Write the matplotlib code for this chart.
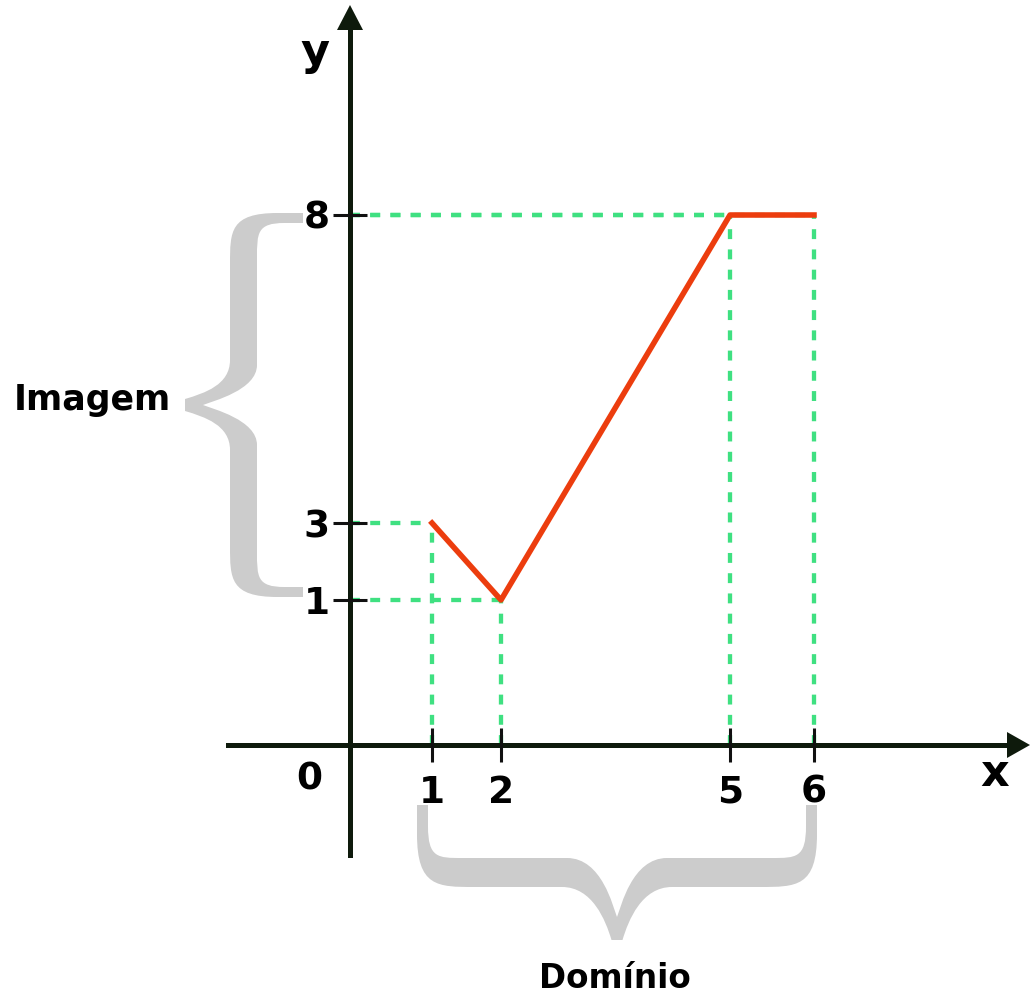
import numpy as np
import matplotlib.pyplot as plt
from matplotlib.path import Path
from matplotlib.patches import PathPatch, Polygon

plt.rcParams['font.family'] = ['DejaVu Sans']
plt.rcParams['font.weight'] = 'bold'

# function f: pieces through these points
xs = [1, 2, 5, 6]
ys = [3, 1, 8, 8]
xticks = [1, 2, 5, 6]
yticks = [1, 3, 8]

# the drawing is not to scale: data value -> pixel position
W, H = 1030, 997
x_knots = [-5, 0, 1, 2, 5, 6, 10]
x_pix = [-50, 350, 432, 501, 730, 814, 1150]
y_knots = [-5, 0, 1, 3, 8, 15]
y_pix = [H - p for p in [1245, 745, 600, 523, 215, -200]]

def fx(v):
    return np.interp(v, x_knots, x_pix)

def fx_inv(p):
    return np.interp(p, x_pix, x_knots)

def fy(v):
    return np.interp(v, y_knots, y_pix)

def fy_inv(p):
    return np.interp(p, y_pix, y_knots)

axis_c = '#0e1a0c'
red = '#ec3d0e'
green = '#3fe081'
gray = '#cccccc'


def brace(L, T, t_in, t_out, notch, stub, tip, flare):
    # curly brace outline in local coords (s along, t towards the tip)
    c = L / 2
    v, k = [], []

    def mv(p):
        v.append(p); k.append(Path.MOVETO)

    def ln(p):
        v.append(p); k.append(Path.LINETO)

    def cu(a, b, p):
        v.extend([a, b, p]); k.extend([Path.CURVE4] * 3)

    mv((0, 0))
    ln((0, t_in * 0.55))
    cu((0, t_out), (t_out * 0.25, t_out), (t_out * 0.7, t_out))
    ln((c - flare, t_out))
    cu((c - flare * 0.45, t_out), (c - tip - 6, T - 20), (c - tip, T))
    ln((c + tip, T))
    cu((c + tip + 6, T - 20), (c + flare * 0.45, t_out), (c + flare, t_out))
    ln((L - t_out * 0.7, t_out))
    cu((L - t_out * 0.25, t_out), (L, t_out), (L, t_in * 0.55))
    ln((L, 0))
    ln((L - stub, 0))
    ln((L - stub, t_in * 0.4))
    cu((L - stub, t_in), (L - stub - 10, t_in), (L - 45, t_in))
    ln((c + flare - 5, t_in))
    cu((c + 15, t_in), (c + 4, notch - 10), (c, notch))
    cu((c - 4, notch - 10), (c - 15, t_in), (c - flare + 5, t_in))
    ln((45, t_in))
    cu((stub + 10, t_in), (stub, t_in), (stub, t_in * 0.4))
    ln((stub, 0))
    v.append((0, 0)); k.append(Path.CLOSEPOLY)
    return np.array(v, float), k


fig = plt.figure(figsize=(10.3, 9.97), dpi=100)

# decorations in pixel coordinates
deco = fig.add_axes([0, 0, 1, 1], zorder=1)
deco.set_xlim(0, W)
deco.set_ylim(H, 0)
deco.axis('off')

v, k = brace(384, 118, 46, 73, 100, 10, 6, 45)
left = np.column_stack([303 - v[:, 1], 213 + v[:, 0]])
deco.add_patch(PathPatch(Path(left, k), fc=gray, ec='none'))
v, k = brace(400, 135, 53, 82, 112, 11, 5.5, 55)
bottom = np.column_stack([417 + v[:, 0], 805 + v[:, 1]])
deco.add_patch(PathPatch(Path(bottom, k), fc=gray, ec='none'))

deco.add_patch(Polygon([[337, 30], [363, 30], [350, 5]], fc=axis_c, ec='none'))
deco.add_patch(Polygon([[1007, 732], [1007, 758], [1030, 745]], fc=axis_c, ec='none'))

deco.text(315, 53, 'y', fontsize=32, ha='center', va='center')
deco.text(995, 773, 'x', fontsize=32, ha='center', va='center')
deco.text(92, 400, 'Imagem', fontsize=25, ha='center', va='center')
deco.text(615, 978, 'Domínio', fontsize=23.5, ha='center', va='center')

# the graph itself
ax = fig.add_axes([0, 0, 1, 1], zorder=2)
ax.patch.set_visible(False)
ax.set_xscale('function', functions=(fx, fx_inv))
ax.set_yscale('function', functions=(fy, fy_inv))
ax.set_xlim(fx_inv(0), fx_inv(W))
ax.set_ylim(fy_inv(0), fy_inv(H))
ax.set_axisbelow(False)

for s in ['top', 'right']:
    ax.spines[s].set_visible(False)
ax.spines['left'].set_position(('data', 0))
ax.spines['bottom'].set_position(('data', 0))
ax.spines['left'].set_bounds(fy_inv(H - 855), fy_inv(H - 28))
ax.spines['bottom'].set_bounds(fx_inv(228), fx_inv(1009))
for s in ['left', 'bottom']:
    ax.spines[s].set_linewidth(3.6)
    ax.spines[s].set_color(axis_c)

ax.set_xticks(xticks)
ax.set_yticks(yticks)
ax.tick_params(axis='x', direction='inout', length=25, width=2.2,
               color='#111111', labelsize=27, pad=9)
ax.tick_params(axis='y', direction='inout', length=25, width=2.2,
               color='#111111', labelsize=27, pad=2)
ax.minorticks_off()

dash = (0, (2.3, 2.4))
ax.vlines(xs, 0, ys, colors=green, linewidth=3.1, linestyles=dash, zorder=1)
ax.hlines(ys, 0, xs, colors=green, linewidth=3.1, linestyles=dash, zorder=1)
ax.plot(xs, ys, color=red, linewidth=4, zorder=3)

ax.annotate('0', xy=(0, 0), xytext=(-29, -25), textcoords='offset points',
            fontsize=27, ha='center', va='center')

fig.savefig('out.png', dpi=100)
